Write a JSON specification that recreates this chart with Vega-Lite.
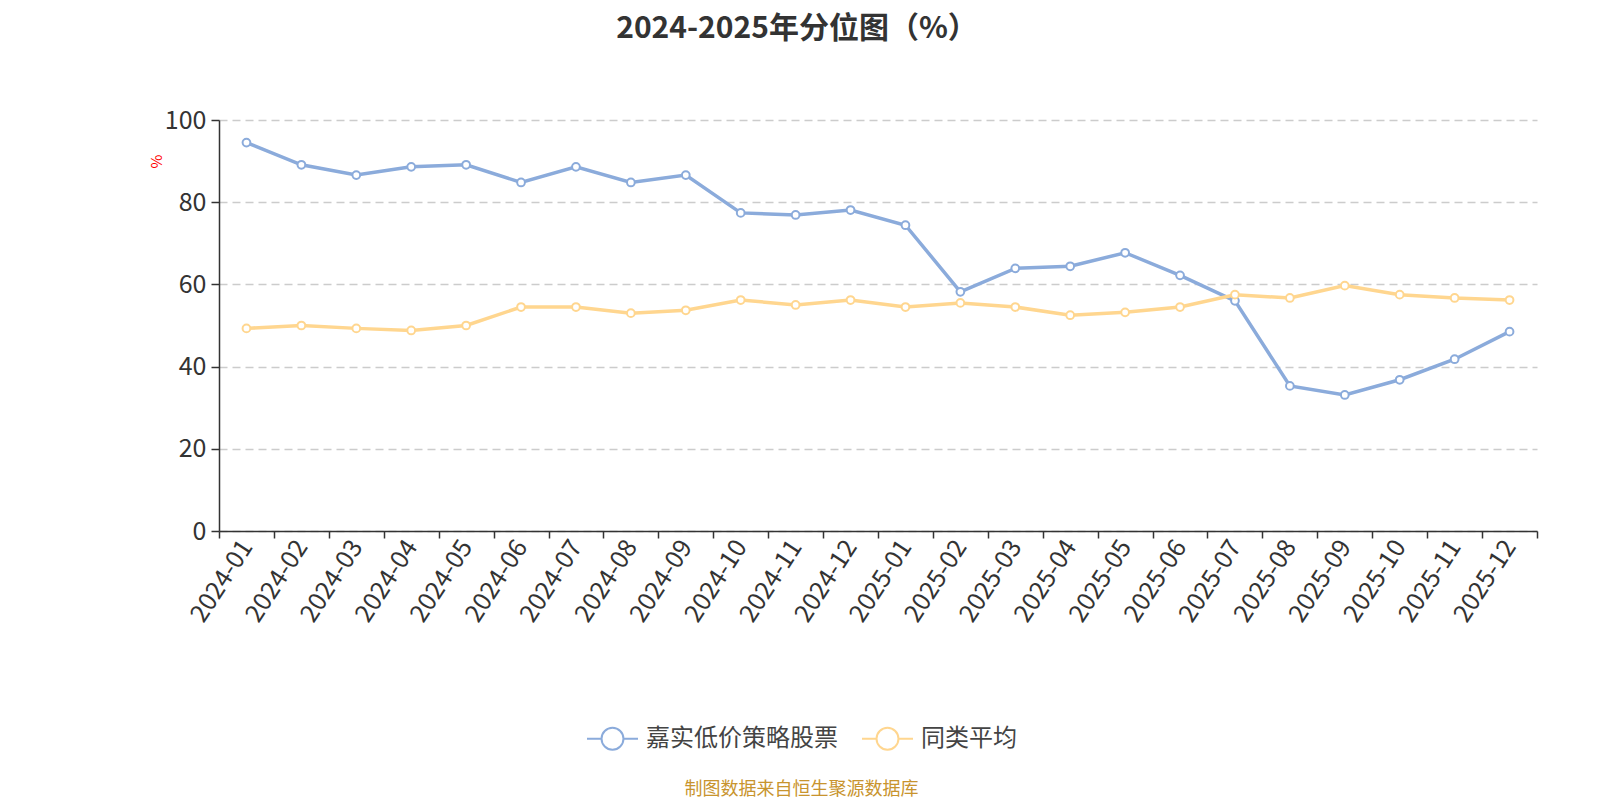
{
  "$schema": "https://vega.github.io/schema/vega-lite/v6.json",
  "autosize": {"type": "none"},
  "width": 1318,
  "height": 411,
  "padding": {"left": 219, "top": 120, "right": 63, "bottom": 269},
  "background": "white",
  "title": {
    "text": "2024-2025年分位图（%）",
    "anchor": "middle",
    "dx": -81,
    "offset": 64,
    "fontSize": 30,
    "fontWeight": "bold",
    "color": "#333333",
    "font": "Noto Sans CJK SC"
  },
  "config": {
    "font": "Noto Sans CJK SC",
    "view": {"stroke": null}
  },
  "data": {
    "values": [
      {"month": "2024-01", "series": "嘉实低价策略股票", "value": 94.5},
      {"month": "2024-02", "series": "嘉实低价策略股票", "value": 89.1},
      {"month": "2024-03", "series": "嘉实低价策略股票", "value": 86.6},
      {"month": "2024-04", "series": "嘉实低价策略股票", "value": 88.6},
      {"month": "2024-05", "series": "嘉实低价策略股票", "value": 89.1},
      {"month": "2024-06", "series": "嘉实低价策略股票", "value": 84.8},
      {"month": "2024-07", "series": "嘉实低价策略股票", "value": 88.6},
      {"month": "2024-08", "series": "嘉实低价策略股票", "value": 84.8},
      {"month": "2024-09", "series": "嘉实低价策略股票", "value": 86.6},
      {"month": "2024-10", "series": "嘉实低价策略股票", "value": 77.4},
      {"month": "2024-11", "series": "嘉实低价策略股票", "value": 76.9},
      {"month": "2024-12", "series": "嘉实低价策略股票", "value": 78.1},
      {"month": "2025-01", "series": "嘉实低价策略股票", "value": 74.4},
      {"month": "2025-02", "series": "嘉实低价策略股票", "value": 58.2},
      {"month": "2025-03", "series": "嘉实低价策略股票", "value": 63.9},
      {"month": "2025-04", "series": "嘉实低价策略股票", "value": 64.4},
      {"month": "2025-05", "series": "嘉实低价策略股票", "value": 67.7},
      {"month": "2025-06", "series": "嘉实低价策略股票", "value": 62.2},
      {"month": "2025-07", "series": "嘉实低价策略股票", "value": 56.0},
      {"month": "2025-08", "series": "嘉实低价策略股票", "value": 35.3},
      {"month": "2025-09", "series": "嘉实低价策略股票", "value": 33.1},
      {"month": "2025-10", "series": "嘉实低价策略股票", "value": 36.8},
      {"month": "2025-11", "series": "嘉实低价策略股票", "value": 41.8},
      {"month": "2025-12", "series": "嘉实低价策略股票", "value": 48.5},
      {"month": "2024-01", "series": "同类平均", "value": 49.3},
      {"month": "2024-02", "series": "同类平均", "value": 50.0},
      {"month": "2024-03", "series": "同类平均", "value": 49.3},
      {"month": "2024-04", "series": "同类平均", "value": 48.8},
      {"month": "2024-05", "series": "同类平均", "value": 50.0},
      {"month": "2024-06", "series": "同类平均", "value": 54.5},
      {"month": "2024-07", "series": "同类平均", "value": 54.5},
      {"month": "2024-08", "series": "同类平均", "value": 53.0},
      {"month": "2024-09", "series": "同类平均", "value": 53.7},
      {"month": "2024-10", "series": "同类平均", "value": 56.2},
      {"month": "2024-11", "series": "同类平均", "value": 55.0},
      {"month": "2024-12", "series": "同类平均", "value": 56.2},
      {"month": "2025-01", "series": "同类平均", "value": 54.5},
      {"month": "2025-02", "series": "同类平均", "value": 55.5},
      {"month": "2025-03", "series": "同类平均", "value": 54.5},
      {"month": "2025-04", "series": "同类平均", "value": 52.5},
      {"month": "2025-05", "series": "同类平均", "value": 53.2},
      {"month": "2025-06", "series": "同类平均", "value": 54.5},
      {"month": "2025-07", "series": "同类平均", "value": 57.5},
      {"month": "2025-08", "series": "同类平均", "value": 56.7},
      {"month": "2025-09", "series": "同类平均", "value": 59.7},
      {"month": "2025-10", "series": "同类平均", "value": 57.5},
      {"month": "2025-11", "series": "同类平均", "value": 56.7},
      {"month": "2025-12", "series": "同类平均", "value": 56.2}
    ]
  },
  "encoding": {
    "x": {
      "field": "month",
      "type": "ordinal",
      "scale": {"type": "band", "paddingInner": 0, "paddingOuter": 0},
      "axis": {
        "title": "制图数据来自恒生聚源数据库",
        "titleColor": "#C8942E",
        "titleFontSize": 18,
        "titleFontWeight": "normal",
        "titleX": 582,
        "titleY": 258,
        "titleAlign": "center",
        "titleBaseline": "middle",
        "labelAngle": -57,
        "labelAlign": "right",
        "labelBaseline": "middle",
        "labelFontSize": 25,
        "labelColor": "#333333",
        "labelPadding": 4,
        "tickBand": "extent",
        "tickSize": 7,
        "tickColor": "#333333",
        "tickWidth": 1.5,
        "domainColor": "#333333",
        "domainWidth": 1.5,
        "grid": false
      }
    },
    "y": {
      "field": "value",
      "type": "quantitative",
      "scale": {"domain": [0, 100]},
      "axis": {
        "title": "%",
        "titleColor": "#FF0000",
        "titleFontSize": 15,
        "titleFontWeight": "normal",
        "titleAngle": -90,
        "titleX": -63,
        "titleY": 41,
        "titleAlign": "center",
        "titleBaseline": "middle",
        "values": [0, 20, 40, 60, 80, 100],
        "labelFontSize": 25,
        "labelColor": "#333333",
        "labelPadding": 5,
        "tickSize": 8,
        "tickColor": "#333333",
        "tickWidth": 1.5,
        "domainColor": "#333333",
        "domainWidth": 1.5,
        "grid": true,
        "gridColor": "#CCCCCC",
        "gridDash": [8, 5],
        "gridWidth": 1.3
      }
    }
  },
  "layer": [
    {
      "mark": {"type": "line", "strokeWidth": 3.5},
      "encoding": {
        "color": {
          "field": "series",
          "type": "nominal",
          "sort": ["嘉实低价策略股票", "同类平均"],
          "scale": {"domain": ["嘉实低价策略股票", "同类平均"], "range": ["#8BABDB", "#FFD68F"]},
          "legend": {
            "title": null,
            "orient": "none",
            "direction": "horizontal",
            "legendX": 367,
            "legendY": 592,
            "padding": 0,
            "symbolType": "M-1,0L-0.43,0M0.43,0L1,0M-0.43,0A0.43,0.43,0,1,1,0.43,0A0.43,0.43,0,1,1,-0.43,0Z",
            "symbolSize": 2601,
            "symbolStrokeWidth": 2,
            "labelFontSize": 24,
            "labelLimit": 400,
            "labelColor": "#444444",
            "labelOffset": 7,
            "columnPadding": 20,
            "encode": {"symbols": {"update": {"fill": {"value": "white"}, "strokeWidth": {"value": 2}}}}
          }
        }
      }
    },
    {
      "mark": {"type": "point", "filled": true, "fill": "white", "strokeWidth": 2, "size": 60, "opacity": 1},
      "encoding": {
        "stroke": {
          "field": "series",
          "type": "nominal",
          "scale": {"domain": ["嘉实低价策略股票", "同类平均"], "range": ["#8BABDB", "#FFD68F"]},
          "legend": null
        }
      }
    }
  ]
}
